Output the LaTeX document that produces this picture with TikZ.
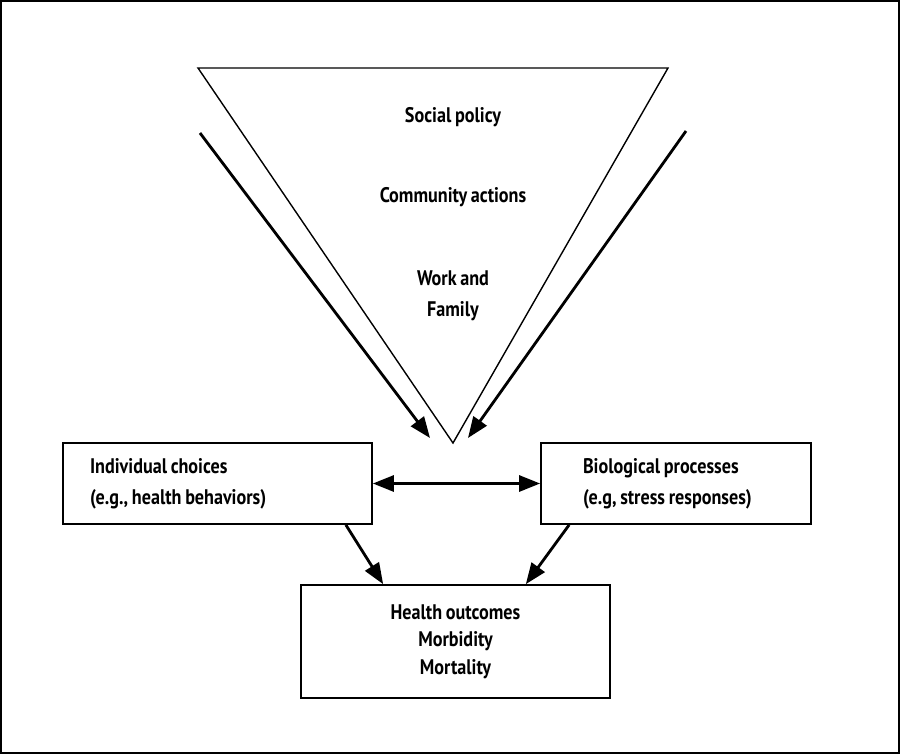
\documentclass[tikz,border=0pt]{standalone}
\usepackage{fontspec}
\newfontfamily\diagfont{PT Sans}[FakeStretch=0.86,WordSpace=0.8]
\usetikzlibrary{arrows.meta, positioning, calc}

\begin{document}
\begin{tikzpicture}[x=0.02cm, y=-0.02cm,
    box/.style={draw,line width=1pt,inner ysep=0pt,minimum height=1.62cm,font=\diagfont\bfseries\fontsize{12}{17.6}\selectfont},
    lbl/.style={font=\diagfont\bfseries\fontsize{12}{17.6}\selectfont,align=center},
    arr/.style={line width=1.6pt,-{Triangle[length=0.42cm,width=0.32cm]}}]

\useasboundingbox (0,0) rectangle (900,754);
\draw[line width=1.2pt] (1,1) rectangle (899,753);

% the funnel
\draw[line width=0.8pt] (198,68) -- (668,68) -- (453,443) -- cycle;
\node[lbl] (policy) at (453,117) {Social policy};
\node[lbl] (community) at (453,197) {Community actions};
\node[lbl] (family) at (453,296) {Work and\\Family};

\coordinate (lfrom) at (200,133);
\coordinate (lto) at (430,438);
\coordinate (rfrom) at (686,131);
\coordinate (rto) at (468,438);
\draw[arr] (lfrom) -- (lto);
\draw[arr] (rfrom) -- (rto);

% boxes
\node[box,text width=5.1cm,inner xsep=0.54cm,align=flush left] (choices) at (217.5,483.5) {Individual choices\\(e.g., health behaviors)};
\node[box,text width=3.72cm,inner xsep=0.84cm,align=flush left] (bio) at (676,483.5) {Biological processes\\(e.g, stress responses)};
\node[box,minimum width=6.18cm,minimum height=2.26cm,align=center,font=\diagfont\bfseries\fontsize{12}{15.6}\selectfont] (outcomes) at (455.5,641.5) {Health outcomes\\Morbidity\\Mortality};

\draw[line width=1.6pt,{Triangle[length=0.42cm,width=0.32cm]}-{Triangle[length=0.42cm,width=0.32cm]}] (choices) -- (bio);
\draw[arr] ([xshift=-0.54cm]choices.south east) -- ([xshift=1.66cm]outcomes.north west);
\draw[arr] ([xshift=0.58cm]bio.south west) -- ([xshift=-1.7cm]outcomes.north east);
\end{tikzpicture}
\end{document}
